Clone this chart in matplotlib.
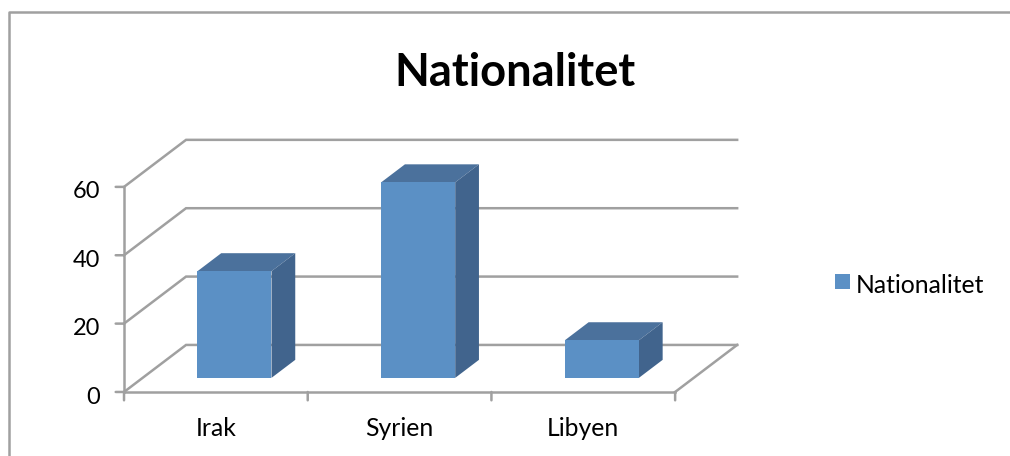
import matplotlib
matplotlib.use("Agg")
import matplotlib.pyplot as plt
from matplotlib.patches import Polygon, Rectangle

plt.rcParams["font.family"] = ["Lato", "DejaVu Sans"]

categories = ["Irak", "Syrien", "Libyen"]
values = [31.2, 57.2, 11]
y_ticks = [0, 20, 40, 60]
series_name = "Nationalitet"

W, H = 1010, 456
GREY = "#a0a0a0"
FRONT = "#5b90c5"
TOP = "#4b719c"
SIDE = "#41648d"
LW = 1.8

# wall depth, in data units
DX = 0.3376
DY = 13.76


def project(x, y, d):
    return (x + d * DX, y + d * DY)


# the extra fraction keeps the saved height from rounding down to 455
fig = plt.figure(figsize=((W + 0.2) / 100, (H + 0.2) / 100), dpi=100, facecolor="white")

# plot frame: only left and top edges show in the picture
bg = fig.add_axes([0, 0, 1, 1])
bg.set_xlim(0, W)
bg.set_ylim(H, 0)
bg.axis("off")
bg.plot([8.5, 8.5, W], [H, 12.5, 12.5], color=GREY, lw=LW)

# front plane of the chart: x 124-675, y 392-187 px
ax = fig.add_axes([124 / W, 1 - 392 / H, 551 / W, 205 / H])
ax.set_xlim(0, 3)
ax.set_ylim(0, 60)
ax.axis("off")

n = len(categories)

# gridlines over side wall and back wall
for t in y_ticks:
    x0, y0 = project(0, t, 1)
    x1, y1 = project(n, t, 1)
    ax.plot([0, x0, x1], [t, y0, y1], color=GREY, lw=LW, clip_on=False, zorder=1, solid_joinstyle="miter")

# floor edge on the right
x0, y0 = project(n, 0, 1)
ax.plot([n, x0], [0, y0], color=GREY, lw=LW, clip_on=False, zorder=1)

# axes lines and ticks
ax.plot([0, 0], [0, 60], color=GREY, lw=LW, clip_on=False, zorder=2)
ax.plot([0, n], [0, 0], color=GREY, lw=LW, clip_on=False, zorder=2)
for t in y_ticks:
    ax.annotate("", xy=(0, t), xytext=(-6, 0), textcoords="offset points", arrowprops=dict(arrowstyle="-", color=GREY, lw=LW, shrinkA=0, shrinkB=0))
    ax.annotate(str(t), xy=(0, t), xytext=(-17, -3.5), textcoords="offset points", ha="right", va="center", fontsize=17, color="black")
for i in range(n + 1):
    ax.annotate("", xy=(i, 0), xytext=(0, -6), textcoords="offset points", arrowprops=dict(arrowstyle="-", color=GREY, lw=LW, shrinkA=0, shrinkB=0))

# bars as oblique boxes
BAR_W = 0.403
D0, D1 = 0.30, 0.683
for i, v in enumerate(values):
    left = i + 0.5 - BAR_W / 2
    right = i + 0.5 + BAR_W / 2
    top_face = [project(left, v, D0), project(right, v, D0), project(right, v, D1), project(left, v, D1)]
    side_face = [project(right, 0, D0), project(right, 0, D1), project(right, v, D1), project(right, v, D0)]
    front_face = [project(left, 0, D0), project(right, 0, D0), project(right, v, D0), project(left, v, D0)]
    ax.add_patch(Polygon(top_face, closed=True, fc=TOP, ec="none", clip_on=False, zorder=3))
    ax.add_patch(Polygon(side_face, closed=True, fc=SIDE, ec="none", clip_on=False, zorder=3))
    ax.add_patch(Polygon(front_face, closed=True, fc=FRONT, ec="none", clip_on=False, zorder=4))
    ax.annotate(categories[i], xy=(i + 0.5, 0), xytext=(0, -26.5), textcoords="offset points", ha="center", va="center", fontsize=17.8, color="black")

# title and legend
bg.text(515, 73, series_name, ha="center", va="center", fontsize=32.6, fontweight="bold", color="black")
bg.add_patch(Rectangle((835, 274), 15, 15, fc=FRONT, ec="none"))
bg.text(856, 285, series_name, ha="left", va="center", fontsize=17.8, color="black")

fig.savefig("out.png", dpi=100)
plt.close(fig)
